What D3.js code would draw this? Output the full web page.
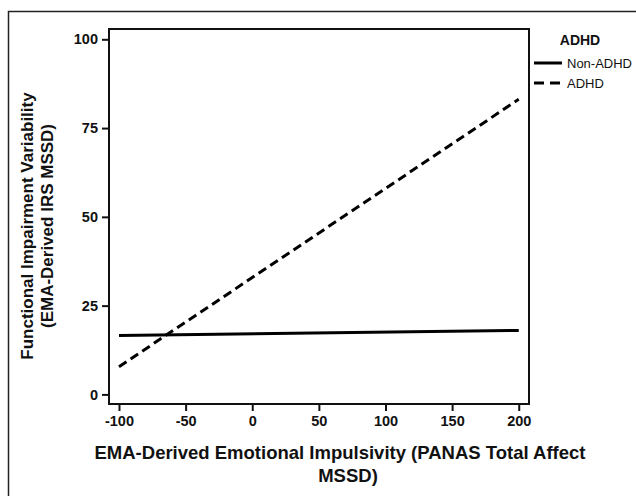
<!DOCTYPE html>
<html lang="en">

<head>
    <meta charset="UTF-8">
    <title>Functional Impairment Variability</title>
    <script src="https://d3js.org/d3.v7.min.js"></script>
    <style>
        body {
            margin: 0;
            background: #fff;
            font-family: "Liberation Sans", Arial, sans-serif;
        }

        .tick text {
            font-size: 14.5px;
            font-weight: bold;
            fill: #111;
        }

        .axis-title {
            font-weight: bold;
            fill: #111;
        }
    </style>
</head>

<body>
    <div id="chart"></div>

    <script>
        // data (end points of the fitted lines)
        const xValues = [-100, 200];
        const nonAdhd = [16.6, 18.0];
        const adhd = [7.8, 83.1];
        const xTicks = [-100, -50, 0, 50, 100, 150, 200];
        const yTicks = [0, 25, 50, 75, 100];
        const legendLabels = ["Non-ADHD", "ADHD"];

        const W = 636, H = 496;
        const plot = { left: 109, right: 529, top: 29, bottom: 404 };

        const svg = d3.select("#chart").append("svg")
            .attr("width", W)
            .attr("height", H);

        // outer border (left and top only, like the cropped figure)
        svg.append("path")
            .attr("d", `M8.5,${H} V11.5 H${W}`)
            .attr("fill", "none")
            .attr("stroke", "#222")
            .attr("stroke-width", 1.5);

        const x = d3.scaleLinear()
            .domain([-107.5, 207.7])
            .range([plot.left, plot.right]);

        const y = d3.scaleLinear()
            .domain([-2.7, 102.9])
            .range([plot.bottom, plot.top]);

        const series = [
            { name: legendLabels[0], values: nonAdhd, dash: null },
            { name: legendLabels[1], values: adhd, dash: "9,5" }
        ];

        const line = d3.line()
            .x((d, i) => x(xValues[i]))
            .y(d => y(d));

        svg.selectAll(".series")
            .data(series)
            .enter().append("path")
            .attr("class", "series")
            .attr("d", d => line(d.values))
            .attr("fill", "none")
            .attr("stroke", "#000")
            .attr("stroke-width", 3)
            .attr("stroke-dasharray", d => d.dash);

        // frame
        svg.append("rect")
            .attr("x", plot.left)
            .attr("y", plot.top)
            .attr("width", plot.right - plot.left)
            .attr("height", plot.bottom - plot.top)
            .attr("fill", "none")
            .attr("stroke", "#111")
            .attr("stroke-width", 2);

        const xAxis = svg.append("g")
            .attr("transform", `translate(0,${plot.bottom + 1})`)
            .call(d3.axisBottom(x).tickValues(xTicks).tickFormat(d => String(d))
                .tickSize(6).tickPadding(5).tickSizeOuter(0));

        const yAxis = svg.append("g")
            .attr("transform", `translate(${plot.left - 1},0)`)
            .call(d3.axisLeft(y).tickValues(yTicks).tickFormat(d => String(d))
                .tickSize(6).tickPadding(4).tickSizeOuter(0));

        [xAxis, yAxis].forEach(g => {
            g.select(".domain").remove();
            g.selectAll(".tick line").attr("stroke", "#111").attr("stroke-width", 2);
        });

        // axis titles
        const xTitle = svg.append("text")
            .attr("class", "axis-title")
            .attr("font-size", 18.5)
            .attr("text-anchor", "middle");
        xTitle.append("tspan").attr("x", 340).attr("y", 459)
            .text("EMA-Derived Emotional Impulsivity (PANAS Total Affect");
        xTitle.append("tspan").attr("x", 348).attr("y", 482)
            .text("MSSD)");

        const yTitle = svg.append("text")
            .attr("class", "axis-title")
            .attr("font-size", 17)
            .attr("text-anchor", "middle")
            .attr("transform", "translate(0,226) rotate(-90)");
        yTitle.append("tspan").attr("x", 0).attr("y", 33)
            .text("Functional Impairment Variability");
        yTitle.append("tspan").attr("x", 0).attr("y", 53)
            .text("(EMA-Derived IRS MSSD)");

        // legend
        const legend = svg.append("g");
        legend.append("text")
            .attr("x", 580)
            .attr("y", 45)
            .attr("text-anchor", "middle")
            .attr("font-size", 14)
            .attr("font-weight", "bold")
            .attr("fill", "#111")
            .text("ADHD");

        const items = legend.selectAll(".item")
            .data(series)
            .enter().append("g")
            .attr("class", "item")
            .attr("transform", (d, i) => `translate(534,${63 + i * 20})`);

        items.append("line")
            .attr("x1", 0).attr("x2", 28)
            .attr("stroke", "#000")
            .attr("stroke-width", 3)
            .attr("stroke-dasharray", d => d.dash ? "10,6" : null);

        items.append("text")
            .attr("x", 33)
            .attr("y", 4.5)
            .attr("font-size", 13)
            .attr("fill", "#111")
            .text(d => d.name);
    </script>
</body>

</html>
